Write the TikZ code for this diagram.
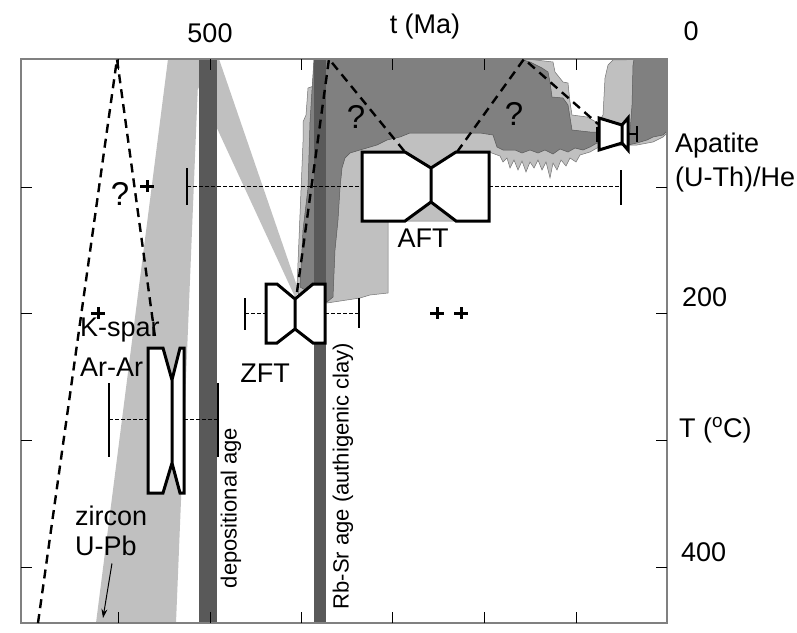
\documentclass[tikz,border=0pt]{standalone}
\usepackage{fontspec}
\setmainfont{Liberation Sans}
\usetikzlibrary{arrows.meta}
\definecolor{lightband}{HTML}{C0C0C0}
\definecolor{midband}{HTML}{808080}
\definecolor{darkbar}{HTML}{595959}

\begin{document}
\begin{tikzpicture}[x=1pt, y=-1pt,
				band/.style={fill=lightband, draw=none},
				envelope/.style={fill=lightband, draw=black!55, line width=0.5pt},
				region/.style={fill=midband, draw=black!65, line width=0.5pt},
				bar/.style={fill=darkbar, draw=none},
				frame/.style={draw=midband, line width=1.5pt},
				tick/.style={draw=black, line width=0.8pt},
				guess/.style={dash pattern=on 9pt off 6pt, line width=2.4pt},
				whisker/.style={dash pattern=on 4pt off 2pt, line width=1pt},
				whiskerend/.style={line width=2.2pt},
				boxplot/.style={draw, fill=white, line width=3pt, line join=miter},
				plusmark/.style={line width=3pt},
				pointer/.style={-{Stealth[length=9pt, width=6pt]}, line width=1pt},
				txt/.style={font=\fontsize{27}{32}\selectfont, inner sep=0pt},
				qmark/.style={font=\fontsize{33}{38}\selectfont, inner sep=0pt},
				vtxt/.style={font=\fontsize{22}{26}\selectfont, inner sep=0pt, rotate=90}]
	\useasboundingbox (0,0) rectangle (797,632);
	\fill[band] (168,59) -- (199,59) -- (176,623) -- (96,623) -- cycle;
	\fill[band] (185,59) -- (219,59) -- (299,292) -- (295,297) -- cycle;
	\draw[envelope] (308,88) -- (314,86) -- (314,59) -- (527,59) -- (553,62) -- (555,72) -- (563,82) -- (568,83) -- (570,102) -- (572,115) -- (587,117) -- (598,123) -- (603,115) -- (605,78) -- (608,65) -- (613,60) -- (667,59) -- (667,133) -- (663,137) -- (653,142) -- (637,145) -- (627,145) -- (597,148) -- (590,152) -- (580,155) -- (576,162) -- (570,158) -- (566,166) -- (561,160) -- (557,170) -- (553,163) -- (550,178) -- (546,162) -- (542,170) -- (538,160) -- (534,168) -- (530,162) -- (526,172) -- (522,161) -- (518,170) -- (514,160) -- (510,168) -- (507,158) -- (503,162) -- (500,156) -- (489,152) -- (489,221) -- (388,221) -- (388,293) -- (370,295) -- (360,298) -- (327,303) -- (300,300) -- (297,287) -- (303,142) -- (303,122) -- (306,115) -- cycle;
	\draw[region] (312,90) -- (314,59) -- (520,59) -- (530,62) -- (542,68) -- (548,72) -- (550,82) -- (552,97) -- (563,98) -- (568,105) -- (572,130) -- (590,132) -- (630,132) -- (632,105) -- (633,65) -- (634,59) -- (667,59) -- (667,131) -- (663,135) -- (653,137) -- (647,140) -- (637,143) -- (628,145) -- (597,143) -- (590,147) -- (583,150) -- (575,148) -- (568,152) -- (560,149) -- (553,154) -- (545,150) -- (538,153) -- (530,150) -- (522,153) -- (515,150) -- (503,150) -- (497,147) -- (493,135) -- (480,133) -- (410,133) -- (400,137) -- (387,140) -- (377,145) -- (360,150) -- (350,153) -- (345,158) -- (342,168) -- (340,188) -- (338,220) -- (335,250) -- (333,297) -- (327,302) -- (300,287) -- (303,230) -- (308,188) -- (310,122) -- cycle;
	\fill[bar] (199,59) rectangle (217,623);
	\fill[bar] (314,59) rectangle (326,623);
	\draw[frame] (21,59) rectangle (667,623);
	\foreach \x in {118,210,301,392,484,576} {
		\draw[tick] (\x,59) -- (\x,70);
		\draw[tick] (\x,623) -- (\x,612);
	}
	\foreach \y in {187,313,440,567} {
		\draw[tick] (21,\y) -- (32,\y);
		\draw[tick] (667,\y) -- (656,\y);
	}
	\draw[guess] (38,623) -- (117,59) -- (155,337);
	\draw[guess] (297,292) -- (329,59) -- (405,152);
	\draw[guess] (457,152) -- (524,59) -- (598,124);
	\draw[whisker] (187,186) -- (362,186);
	\draw[whisker] (489,186) -- (621,186);
	\draw[whiskerend] (187,168) -- (187,205);
	\draw[whiskerend] (621,170) -- (621,205);
	\draw[whisker] (245,313) -- (266,313);
	\draw[whisker] (325,313) -- (359,313);
	\draw[whiskerend] (245,298) -- (245,330);
	\draw[whiskerend] (359,298) -- (359,328);
	\draw[whisker] (109,419) -- (148,419);
	\draw[whisker] (184,419) -- (218,419);
	\draw[whiskerend] (109,383) -- (109,457);
	\draw[whiskerend] (218,383) -- (218,457);
	\draw[whiskerend] (597,134) -- (599,134) (628,134) -- (637,134);
	\draw[whiskerend] (597,127) -- (597,142);
	\draw[whiskerend] (637,126) -- (637,142);
	\draw[boxplot] (362,152) -- (405,152) -- (431,168) -- (456,152) -- (489,152) -- (489,221) -- (456,221) -- (431,202) -- (405,221) -- (362,221) -- cycle (431,168) -- (431,202);
	\draw[boxplot] (266,284) -- (277,284) -- (295,299) -- (313,284) -- (325,284) -- (325,343) -- (313,343) -- (295,329) -- (277,343) -- (266,343) -- cycle (295,299) -- (295,329);
	\draw[boxplot] (148,348) -- (163,348) -- (172,380) -- (180,348) -- (184,348) -- (184,493) -- (180,493) -- (172,463) -- (163,493) -- (148,493) -- cycle (172,380) -- (172,463);
	\draw[boxplot] (599,118) -- (622,125) -- (628,118) -- (628,150) -- (622,143) -- (599,150) -- cycle (622,125) -- (622,143);
	\foreach \x/\y in {147/186, 98/313, 437/313, 461/313}
		\draw[plusmark] (\x-7,\y) -- (\x+7,\y) (\x,\y-6) -- (\x,\y+6);
	\node[txt, anchor=base] (tmin) at (210,42) {500};
	\node[txt, anchor=base] (tmax) at (691,40) {0};
	\node[txt, anchor=base] (taxis) at (425,33) {t (Ma)};
	\node[txt, anchor=base west] (AHe1) at (675,152) {Apatite};
	\node[txt, anchor=base west] (AHe2) at (675,186) {(U-Th)/He};
	\node[txt, anchor=base west] (T200) at (682,306) {200};
	\node[txt, anchor=base west] (Tlab) at (679,437) {T (\textsuperscript{o}C)};
	\node[txt, anchor=base west] (T400) at (681,561) {400};
	\node[txt, anchor=base] (AFT) at (423,247) {AFT};
	\node[txt, anchor=base] (ZFT) at (265,382) {ZFT};
	\node[txt, anchor=base west] (Ksp1) at (80,336) {K-spar};
	\node[txt, anchor=base west] (Ksp2) at (80,376) {Ar-Ar};
	\node[txt, anchor=base west] (zrc1) at (75,525) {zircon};
	\node[txt, anchor=base west] (zrc2) at (75,555) {U-Pb};
	\node[qmark, anchor=base] (q1) at (120,205) {?};
	\node[qmark, anchor=base] (q2) at (356,128) {?};
	\node[qmark, anchor=base] (q3) at (514,125) {?};
	\node[vtxt] (dep) at (231,508) {depositional age};
	\node[vtxt] (RbSr) at (343,476) {Rb-Sr age (authigenic clay)};
	\coordinate (zrctip) at (103,618);
	\draw[pointer] ([xshift=6pt, yshift=-8pt]zrc2.south) -- (zrctip);
\end{tikzpicture}
\end{document}
